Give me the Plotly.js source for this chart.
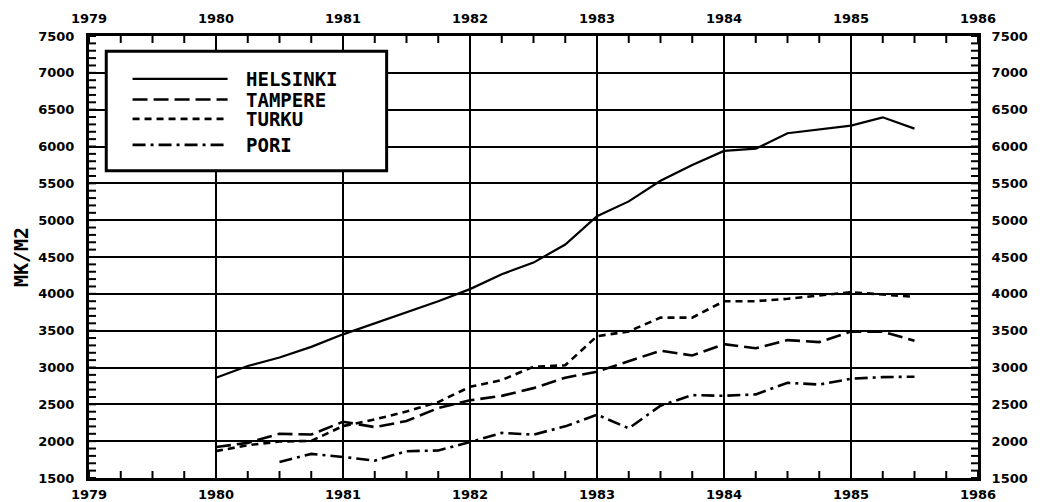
<!DOCTYPE html>
<html>
<head>
<meta charset="utf-8">
<script src="https://cdn.plot.ly/plotly-3.0.1.min.js"></script>
<style>html,body{margin:0;padding:0;background:#fff;}#chart{width:1040px;height:502px;}</style>
</head>
<body>
<div id="chart"></div>
<script>
// ---- data ----
const seriesNames = ["HELSINKI", "TAMPERE", "TURKU", "PORI"];
const quarters = [1980.0, 1980.25, 1980.5, 1980.75,
                  1981.0, 1981.25, 1981.5, 1981.75,
                  1982.0, 1982.25, 1982.5, 1982.75,
                  1983.0, 1983.25, 1983.5, 1983.75,
                  1984.0, 1984.25, 1984.5, 1984.75,
                  1985.0, 1985.25, 1985.5];
const poriQuarters = [1980.5, 1980.75,
                  1981.0, 1981.25, 1981.5, 1981.75,
                  1982.0, 1982.25, 1982.5, 1982.75,
                  1983.0, 1983.25, 1983.5, 1983.75,
                  1984.0, 1984.25, 1984.5, 1984.75,
                  1985.0, 1985.25, 1985.5];
const helsinki = [2860, 3020, 3135, 3280, 3450, 3600, 3750, 3900, 4064, 4266, 4424, 4670,
                  5053, 5255, 5534, 5750, 5940, 5970, 6180, 6234, 6284, 6396, 6243];
const tampere  = [1920, 1977, 2100, 2090, 2264, 2191, 2273, 2450, 2555, 2615, 2720, 2862,
                  2943, 3090, 3228, 3163, 3317, 3262, 3372, 3345, 3487, 3487, 3363];
const turku    = [1865, 1945, 1995, 2004, 2205, 2295, 2402, 2531, 2738, 2830, 3010, 3030,
                  3425, 3490, 3677, 3677, 3900, 3900, 3933, 3978, 4022, 3990, 3960];
const pori     = [1718, 1827, 1786, 1736, 1864, 1873, 1988, 2112, 2089, 2201,
                  2360, 2174, 2482, 2625, 2616, 2635, 2792, 2769, 2847, 2870, 2875];
const yearRange = [1979, 1986];
const valueRange = [1500, 7500];
const yTitle = "MK/M2";

// ---- styles ----
const dashes = ["solid", "15px,6px", "7px,5px", "13px,5px,3px,5px"];
const widths = [2.2, 2.6, 2.6, 2.6];
const xs = [quarters, quarters, quarters, poriQuarters];
const ys = [helsinki, tampere, turku, pori];
// traces are spread over overlaid axes (identical ranges) so every labelled side is drawn
const axX = ["x2", "x3", "x", "x"];
const axY = ["y2", "y3", "y", "y"];

const traces = seriesNames.map((n, i) => ({
  type: "scatter", mode: "lines", name: n,
  x: xs[i], y: ys[i], xaxis: axX[i], yaxis: axY[i],
  line: {color: "#000", width: widths[i], dash: dashes[i]},
  showlegend: false, hoverinfo: "skip"
}));

const tickFont = {family: "DejaVu Sans", size: 13, color: "#000", weight: "bold"};
const clear = "rgba(0,0,0,0)";

// ---- small inward tick marks along the frame (quarters on x, hundreds on y) ----
const plotW = 1040 - 89 - 62, plotH = 502 - 36 - 24, tickPx = 7;
const shapes = [];
const tickLine = {color: "#000", width: 2};
for (let v = yearRange[0]; v <= yearRange[1] + 1e-9; v += 0.25) {
  shapes.push({type: "line", xref: "x", yref: "paper", x0: v, x1: v, y0: 0, y1: tickPx / plotH, line: tickLine, layer: "above"});
  shapes.push({type: "line", xref: "x", yref: "paper", x0: v, x1: v, y0: 1, y1: 1 - tickPx / plotH, line: tickLine, layer: "above"});
}
for (let v = valueRange[0]; v <= valueRange[1] + 1e-9; v += 100) {
  shapes.push({type: "line", xref: "paper", yref: "y", y0: v, y1: v, x0: 0, x1: tickPx / plotW, line: tickLine, layer: "above"});
  shapes.push({type: "line", xref: "paper", yref: "y", y0: v, y1: v, x0: 1, x1: 1 - tickPx / plotW, line: tickLine, layer: "above"});
}

// ---- custom legend (paper coordinates) ----
const legBox = {x0: 0.0194, x1: 0.3348, y0: 0.6954, y1: 0.9656};
const legRowsY = [0.9031, 0.8562, 0.8125, 0.7536];
shapes.push({
  type: "rect", xref: "paper", yref: "paper",
  x0: legBox.x0, x1: legBox.x1, y0: legBox.y0, y1: legBox.y1,
  line: {color: "#000", width: 3}, fillcolor: "#fff", layer: "above"
});
const annotations = [];
seriesNames.forEach((n, i) => {
  shapes.push({
    type: "line", xref: "paper", yref: "paper",
    x0: 0.049, x1: 0.1559, y0: legRowsY[i], y1: legRowsY[i],
    line: {color: "#000", width: widths[i], dash: dashes[i]}, layer: "above"
  });
  annotations.push({
    xref: "paper", yref: "paper", x: 0.1739, y: legRowsY[i],
    xanchor: "left", yanchor: "middle", showarrow: false, text: n,
    font: {family: "DejaVu Sans Mono", size: 19, color: "#000", weight: "bold"}
  });
});

const labelAxis = (extra) => Object.assign({
  showgrid: false, showline: false, zeroline: false,
  ticks: "outside", tickcolor: clear, tickwidth: 1, tickfont: tickFont
}, extra);

const layout = {
  width: 1040, height: 502,
  margin: {l: 89, r: 62, t: 36, b: 24, pad: 0},
  paper_bgcolor: "#fff", plot_bgcolor: "#fff",
  showlegend: false,
  // frame and grid
  xaxis: {
    range: yearRange, tick0: 1979, dtick: 1, showticklabels: false, ticks: "",
    showgrid: true, gridcolor: "#000", gridwidth: 2,
    showline: true, linecolor: "#000", linewidth: 3, mirror: true, zeroline: false
  },
  yaxis: {
    range: valueRange, tick0: 1500, dtick: 500, showticklabels: false, ticks: "",
    showgrid: true, gridcolor: "#000", gridwidth: 2,
    showline: true, linecolor: "#000", linewidth: 3, mirror: true, zeroline: false
  },
  // labels on all four sides
  xaxis2: labelAxis({overlaying: "x", side: "top", anchor: "y", range: yearRange, tick0: 1979, dtick: 1, ticklen: 7}),
  yaxis2: labelAxis({overlaying: "y", side: "right", anchor: "x", range: valueRange, tick0: 1500, dtick: 500, ticklen: 10}),
  xaxis3: labelAxis({overlaying: "x", side: "bottom", anchor: "y", range: yearRange, tick0: 1979, dtick: 1, ticklen: 4}),
  yaxis3: labelAxis({overlaying: "y", side: "left", anchor: "x", range: valueRange, tick0: 1500, dtick: 500, ticklen: 11,
    title: {text: yTitle, font: {family: "DejaVu Sans Mono", size: 20, color: "#000", weight: "bold"}, standoff: 4}}),
  shapes: shapes,
  annotations: annotations
};

Plotly.newPlot("chart", traces, layout, {staticPlot: true, displayModeBar: false});
</script>
</body>
</html>
